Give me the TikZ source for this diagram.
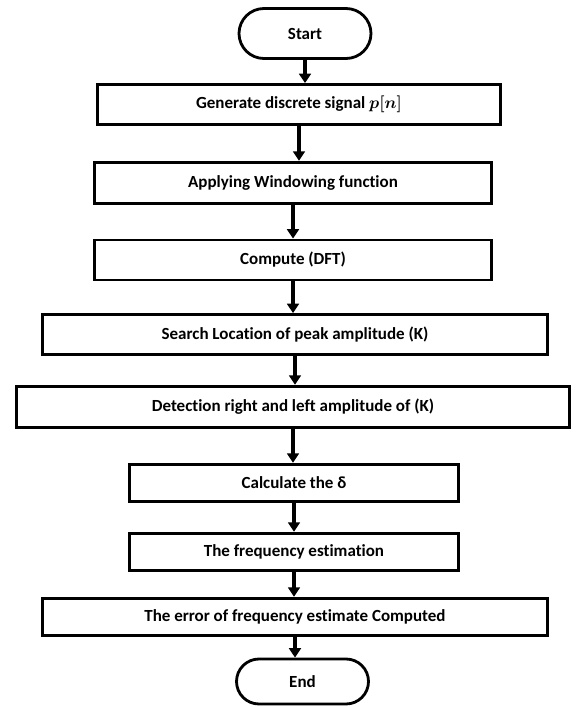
\documentclass[tikz,border=0pt]{standalone}
\usepackage{amsmath,bm}
\usepackage{fontspec}
\setmainfont[Ligatures=NoCommon]{Carlito}
\usepackage{tikz}
\usetikzlibrary{shapes.misc,arrows.meta,positioning,calc}
\tikzset{
  basebox/.style={rectangle,draw=black,line width=2.4pt,align=center,font=\fontsize{14.5}{16}\selectfont\bfseries,inner sep=2pt},
  stepbox/.style={basebox,minimum height=1.2cm},
  termnode/.style={basebox,rounded rectangle,minimum width=4.1cm,minimum height=1.5cm},
  arr/.style={-{Triangle[length=8pt,width=10pt]},line width=2.8pt,color=black}
}
\begin{document}
\begin{tikzpicture}[x=0.03cm,y=-0.03cm]
  \useasboundingbox (0,0) rectangle (575,707);
  \node[termnode] (start) at (305,33.5) {Start};
  \node[stepbox,minimum width=12.1cm] (gen) at (299,104.5) {Generate discrete signal $\boldsymbol{p}\bm{[}\boldsymbol{n}\bm{]}$};
  \node[stepbox,minimum width=11.9cm,minimum height=1.25cm] (win) at (293,183) {Applying Windowing function};
  \node[stepbox,minimum width=11.9cm] (dft) at (293,260) {Compute (DFT)};
  \node[stepbox,minimum width=15.15cm] (peak) at (295,334.5) {Search Location of peak amplitude (K)};
  \node[stepbox,minimum width=16.6cm,minimum height=1.25cm] (side) at (293,407) {Detection right and left amplitude of (K)};
  \node[stepbox,minimum width=9.85cm,minimum height=1.13cm] (delta) at (294,483) {Calculate the δ};
  \node[stepbox,minimum width=9.85cm,minimum height=1.13cm] (freq) at (294,552) {The frequency estimation};
  \node[stepbox,minimum width=15.15cm,minimum height=1.13cm] (err) at (295,617) {The error of frequency estimate Computed};
  \node[termnode,minimum height=1.35cm] (end) at (302.5,681.5) {End};

  \draw[arr] (start.south) -- (start.south |- gen.north);
  \draw[arr] (gen.south) -- (gen.south |- win.north);
  \draw[arr] (win.south) -- (win.south |- dft.north);
  \draw[arr] (dft.south) -- (dft.south |- peak.north);
  \draw[arr] (peak.south) -- (peak.south |- side.north);
  \draw[arr] (side.south) -- (side.south |- delta.north);
  \draw[arr] (delta.south) -- (delta.south |- freq.north);
  \draw[arr] (freq.south) -- (freq.south |- err.north);
  \draw[arr] (err.south) -- (err.south |- end.north);
\end{tikzpicture}
\end{document}
